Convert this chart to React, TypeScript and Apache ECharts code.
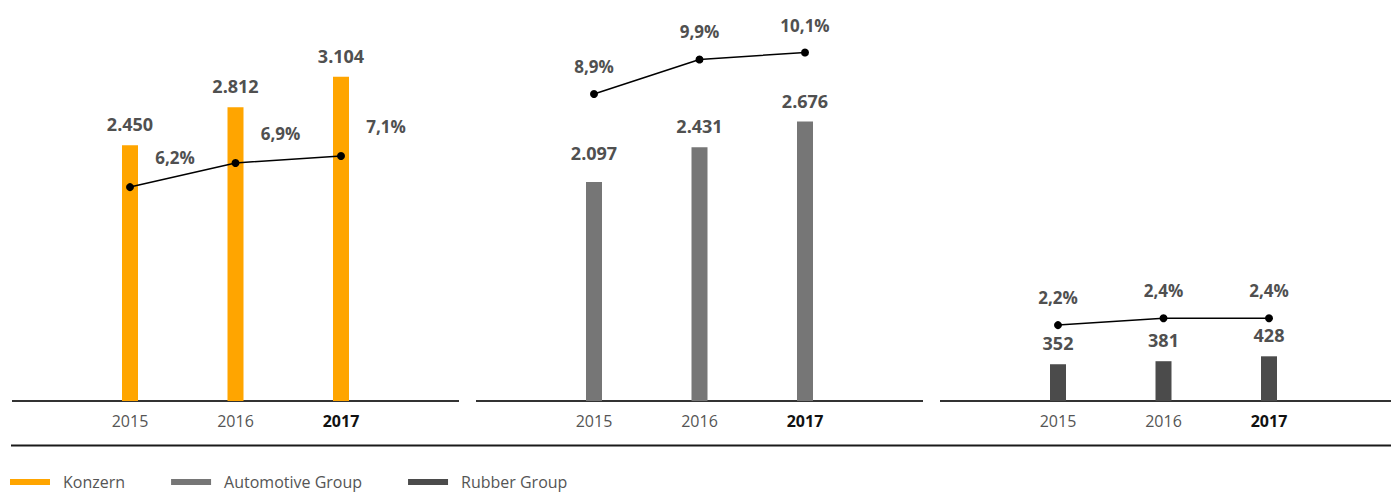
import React, { useEffect, useRef } from "react";
import * as echarts from "echarts";

const years = ["2015", "2016", "2017"];
const seriesNames = ["Konzern", "Automotive Group", "Rubber Group"];
const barColors = ["#FFA500", "#767676", "#4B4B4B"];
const konzernValues = [2450, 2812, 3104];
const konzernMargin = [6.2, 6.9, 7.1];
const automotiveValues = [2097, 2431, 2676];
const automotiveMargin = [8.9, 9.9, 10.1];
const rubberValues = [352, 381, 428];
const rubberMargin = [2.2, 2.4, 2.4];

const FONT = "'Open Sans', 'DejaVu Sans', sans-serif";

function fmtThousands(n: number): string {
  const s = String(Math.round(n));
  return s.replace(/\B(?=(\d{3})+(?!\d))/g, ".");
}
function fmtPct(n: number): string {
  return n.toFixed(1).replace(".", ",") + "%";
}

export default function App() {
  const ref = useRef<HTMLDivElement>(null);
  useEffect(() => {
    if (!ref.current) return;
    const chart = echarts.init(ref.current, undefined, { renderer: "svg" });
    const barSets = [konzernValues, automotiveValues, rubberValues];
    const marginSets = [konzernMargin, automotiveMargin, rubberMargin];
    const panelStep = 464;
    const gridTop = 38.75;
    const gridHeight = 362.25;

    const grids: any[] = [];
    const xAxes: any[] = [];
    const yAxes: any[] = [];
    const series: any[] = [];

    for (let i = 0; i < 3; i++) {
      grids.push({
        left: 77.25 + panelStep * i,
        top: gridTop,
        width: 316.5,
        height: gridHeight,
        containLabel: false,
      });
      xAxes.push({
        type: "category",
        gridIndex: i,
        data: years,
        axisLine: { show: false },
        axisTick: { show: false },
        splitLine: { show: false },
        axisLabel: {
          margin: 12,
          fontFamily: FONT,
          fontSize: 16,
          color: "#555555",
          formatter: (v: string) => (v === "2017" ? "{b|" + v + "}" : v),
          rich: {
            b: { fontFamily: FONT, fontSize: 16, fontWeight: "bold", color: "#111111" },
          },
        },
      });
      yAxes.push({
        type: "value",
        gridIndex: i,
        min: 0,
        max: 3469,
        show: false,
        splitLine: { show: false },
      });
      yAxes.push({
        type: "value",
        gridIndex: i,
        min: 0,
        max: 10.5,
        show: false,
        splitLine: { show: false },
      });
      series.push({
        type: "bar",
        name: seriesNames[i],
        xAxisIndex: i,
        yAxisIndex: i * 2,
        barWidth: 16,
        itemStyle: { color: barColors[i] },
        data: barSets[i].map((v, j) => {
          const item: any = { value: v };
          if (i === 1 && j === 0) item.label = { distance: 20 };
          return item;
        }),
        label: {
          show: true,
          position: "top",
          distance: 12,
          fontFamily: FONT,
          fontSize: 18,
          fontWeight: "bold",
          color: "#505050",
          formatter: (p: any) => fmtThousands(p.value),
        },
        z: 2,
      });
      series.push({
        type: "line",
        name: seriesNames[i] + " Marge",
        xAxisIndex: i,
        yAxisIndex: i * 2 + 1,
        data: marginSets[i],
        clip: false,
        symbol: "circle",
        symbolSize: 8,
        lineStyle: { color: "#000000", width: 1.5 },
        itemStyle: { color: "#000000" },
        label: {
          show: true,
          position: "top",
          distance: 15,
          offset: i === 0 ? [45, -2] : [0, 0],
          fontFamily: FONT,
          fontSize: 17,
          fontWeight: "bold",
          color: "#505050",
          formatter: (p: any) => fmtPct(p.value),
        },
        z: 5,
      });
    }

    const axisSegments = [
      [12, 459],
      [476, 923],
      [940, 1391],
    ];
    const graphics: any[] = axisSegments.map((s) => ({
      type: "line",
      shape: { x1: s[0], y1: 401, x2: s[1], y2: 401 },
      style: { stroke: "#333333", lineWidth: 2 },
      silent: true,
    }));
    graphics.push({
      type: "line",
      shape: { x1: 11, y1: 445.5, x2: 1391, y2: 445.5 },
      style: { stroke: "#1a1a1a", lineWidth: 2 },
      silent: true,
    });

    chart.setOption({
      animation: false,
      grid: grids,
      xAxis: xAxes,
      yAxis: yAxes,
      series,
      graphic: graphics,
      legend: {
        data: seriesNames,
        left: 10,
        top: 474,
        padding: 0,
        icon: "rect",
        itemWidth: 40,
        itemHeight: 6,
        itemGap: 46,
        selectedMode: false,
        textStyle: {
          fontFamily: FONT,
          fontSize: 16,
          lineHeight: 16,
          color: "#555555",
          padding: [0, 0, 0, 8],
        },
      },
    });
    return () => chart.dispose();
  }, []);
  return (
    <div
      ref={ref}
      style={{ position: "absolute", left: 0, top: 0, width: 1391, height: 492 }}
    />
  );
}
